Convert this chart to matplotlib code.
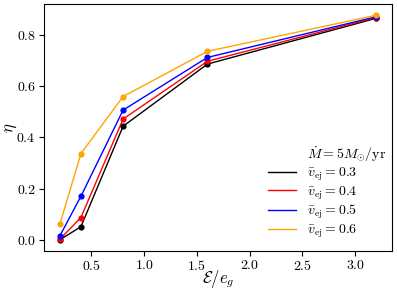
import matplotlib
matplotlib.use("Agg")
import matplotlib.pyplot as plt

plt.rcParams['font.family'] = 'serif'
plt.rcParams['font.serif'] = ['cmr10', 'DejaVu Serif']
plt.rcParams['mathtext.fontset'] = 'cm'
plt.rcParams['axes.formatter.use_mathtext'] = True

energy = [0.2, 0.4, 0.8, 1.6, 3.2]
eta_03 = [0.0, 0.051, 0.444, 0.687, 0.866]
eta_04 = [0.002, 0.087, 0.472, 0.698, 0.869]
eta_05 = [0.015, 0.170, 0.507, 0.713, 0.872]
eta_06 = [0.060, 0.337, 0.560, 0.737, 0.878]
series = [(eta_03, 'black', r'$\bar{v}_{\rm ej} = 0.3$'),
          (eta_04, 'red', r'$\bar{v}_{\rm ej} = 0.4$'),
          (eta_05, 'blue', r'$\bar{v}_{\rm ej} = 0.5$'),
          (eta_06, 'orange', r'$\bar{v}_{\rm ej} = 0.6$')]

fig = plt.figure(figsize=(3.97, 2.92), dpi=100)
ax = fig.add_axes([44/397, 41/292, 348/397, 247/292])
ax.plot([], [], ' ', label=r'$\dot{M} = 5M_{\odot}/{\rm yr}$')
for vals, c, lab in series:
    ax.plot(energy, vals, color=c, lw=1.0, label=lab)
    ax.scatter(energy, vals, color=c, s=12, zorder=3)

ax.set_xlabel(r'$\mathcal{E}/e_g$', fontsize=12, labelpad=-4)
ax.set_ylabel(r'$\eta$', fontsize=12, labelpad=-2)
ax.tick_params(labelsize=10, pad=2.5)
ax.set_xticks([0.5, 1.0, 1.5, 2.0, 2.5, 3.0])
ax.set_yticks([0.0, 0.2, 0.4, 0.6, 0.8])
leg = ax.legend(loc='lower right', frameon=False, fontsize=10,
                labelspacing=0.1, borderaxespad=0.0,
                bbox_to_anchor=(1.0, 0.022))
fig.savefig('out.png', dpi=100)
